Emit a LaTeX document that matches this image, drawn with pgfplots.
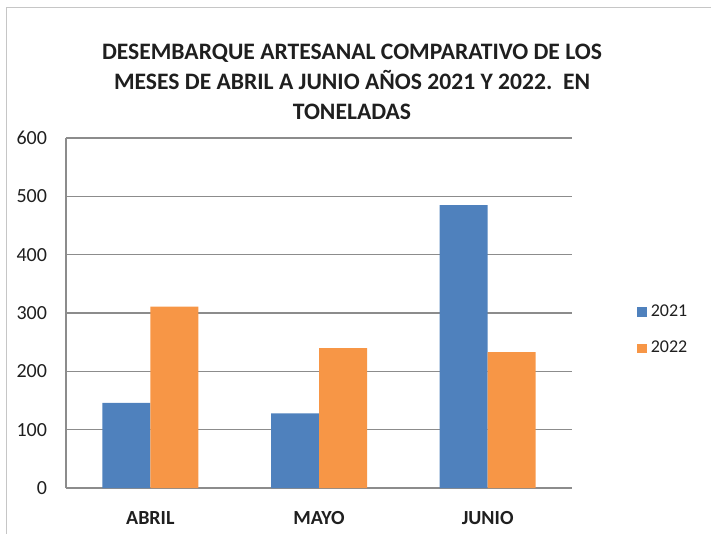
\documentclass[border=0pt]{standalone}
\usepackage{fontspec}
\setmainfont{Carlito}
\usepackage{pgfplots}
\pgfplotsset{compat=1.18}
\definecolor{bluebar}{HTML}{4F81BD}
\definecolor{orangebar}{HTML}{F79646}
\definecolor{gridgray}{HTML}{8C8C8C}
\definecolor{textgray}{HTML}{1F1F1F}
\begin{document}
\begin{tikzpicture}
% page = 711 x 534 px at 0.5pt per px
\path[use as bounding box] (0,0) rectangle (355.5pt,-267pt);
\draw[gray!45, line width=0.6pt] (3.3pt,-267pt) -- (3.3pt,-3.8pt) -- (355.5pt,-3.8pt);
\node[anchor=north, inner sep=0pt, align=center, text=textgray,
      font=\fontsize{11.8}{15}\selectfont\bfseries] at (176pt,-22pt)
  {DESEMBARQUE ARTESANAL COMPARATIVO DE LOS\\
   MESES DE ABRIL A JUNIO AÑOS 2021 Y 2022.\ \ EN\\
   TONELADAS};
\begin{axis}[
    at={(33pt,-244pt)}, anchor=south west,
    scale only axis,
    width=253pt, height=175pt,
    ybar=0pt, bar width=24pt,
    xmin=-0.5, xmax=2.5,
    ymin=0, ymax=600,
    xtick={0,1,2},
    xticklabels={ABRIL,MAYO,JUNIO},
    ytick={0,100,...,600},
    ymajorgrids=true,
    grid style={gridgray, line width=0.7pt},
    axis lines*=left,
    axis line style={gridgray, line width=0.8pt},
    major tick length=0pt,
    tick label style={text=textgray, font=\fontsize{10}{12}\selectfont},
    /pgf/number format/assume math mode=true,
    x tick label style={font=\fontsize{10}{12}\selectfont\bfseries, yshift=-8pt},
    y tick label style={xshift=-6pt},
    legend style={at={(1.128,0.537)}, anchor=north west, draw=none, fill=none,
      font=\fontsize{9}{11}\selectfont, text=textgray,
      row sep=7pt, inner sep=0pt,
      /tikz/every even column/.append style={column sep=0pt}},
    legend cell align=left,
    legend image code/.code={\fill[#1] (0pt,-2.4pt) rectangle (4.8pt,2.4pt);},
]
\addplot[fill=bluebar, draw=none] coordinates {(0,146) (1,128) (2,485)};
\addlegendentry{2021}
\addplot[fill=orangebar, draw=none] coordinates {(0,311) (1,240) (2,233)};
\addlegendentry{2022}
\end{axis}
\end{tikzpicture}
\end{document}
